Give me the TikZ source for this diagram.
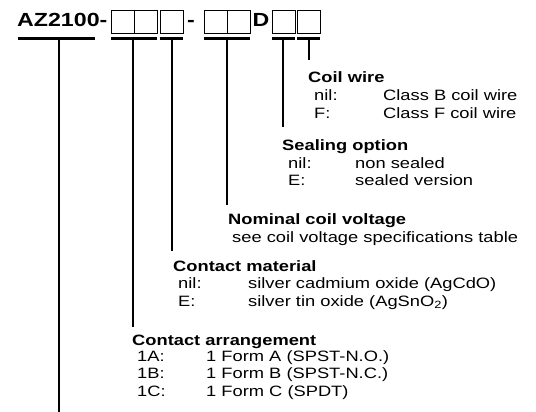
\documentclass[tikz,border=0pt]{standalone}
\usepackage{fontspec}
\setmainfont{Liberation Sans}[FakeStretch=1.22]
\begin{document}
\begin{tikzpicture}[x=1pt,y=-1pt,
  txt/.style={inner sep=0pt, anchor=base west, font=\fontsize{15}{18}\selectfont},
  hd/.style={inner sep=0pt, anchor=base west, font=\fontsize{15}{18}\selectfont\bfseries},
  ttl/.style={inner sep=0pt, anchor=base west, font=\fontsize{19}{23}\selectfont\bfseries},
  digit/.style={draw, line width=1.1pt, minimum width=23pt, minimum height=23pt, inner sep=0pt, anchor=north west},
  bar/.style={line width=2.4pt},
  stem/.style={line width=2pt}]
\useasboundingbox (0,0) rectangle (536,412);
% title
\node[ttl] (az) at (17,27) {AZ2100-};
\node[digit] (b1) at (111,10) {};
\node[digit] (b2) at (134,10) {};
\node[digit] (b3) at (160,10) {};
\node[ttl, anchor=base] (dash) at (191,27) {-};
\node[digit] (b4) at (204,10) {};
\node[digit] (b5) at (227,10) {};
\node[ttl, anchor=base] (dd) at (261,27) {D};
\node[digit] (b6) at (272,10) {};
\node[digit] (b7) at (297,10) {};
% bars
\coordinate (l1) at (18,38.5);  \coordinate (r1) at (95,38.5);
\coordinate (l2) at (111,38.5); \coordinate (r2) at (157,38.5);
\coordinate (l3) at (160,38.5); \coordinate (r3) at (183,38.5);
\coordinate (l4) at (204,38.5); \coordinate (r4) at (250,38.5);
\coordinate (l5) at (272,38.5); \coordinate (r5) at (295,38.5);
\coordinate (l6) at (297,38.5); \coordinate (r6) at (320,38.5);
\foreach \i in {1,...,6} {\draw[bar] (l\i) -- (r\i);}
% stems
\coordinate (t1) at (59,38.5);  \coordinate (e1) at (59,412);
\coordinate (t2) at (133,38.5); \coordinate (e2) at (133,327);
\coordinate (t3) at (172,38.5); \coordinate (e3) at (172,251);
\coordinate (t4) at (227,38.5); \coordinate (e4) at (227,205);
\coordinate (t5) at (283,38.5); \coordinate (e5) at (283,127);
\coordinate (t6) at (309,38.5); \coordinate (e6) at (309,60);
\foreach \i in {1,...,6} {\draw[stem] (t\i) -- (e\i);}
% coil wire
\node[hd] (cw) at (308,83) {Coil wire};
\node[txt] (cw1k) at (314,101) {nil:};
\node[txt] (cw1v) at (383,101) {Class B coil wire};
\node[txt] (cw2k) at (314,118) {F:};
\node[txt] (cw2v) at (383,118) {Class F coil wire};
% sealing option
\node[hd] (so) at (282,150) {Sealing option};
\node[txt] (so1k) at (288,168) {nil:};
\node[txt] (so1v) at (355,168) {non sealed};
\node[txt] (so2k) at (288,185) {E:};
\node[txt] (so2v) at (355,185) {sealed version};
% nominal coil voltage
\node[hd] (nv) at (228,224) {Nominal coil voltage};
\node[txt] (nv1) at (232,242) {see coil voltage specifications table};
% contact material
\node[hd] (cm) at (173,271) {Contact material};
\node[txt] (cm1k) at (178,288) {nil:};
\node[txt] (cm1v) at (248,288) {silver cadmium oxide (AgCdO)};
\node[txt] (cm2k) at (178,306) {E:};
\node[txt] (cm2v) at (248,306) {silver tin oxide (AgSnO\textsubscript{2})};
% contact arrangement
\node[hd] (ca) at (132,345) {Contact arrangement};
\node[txt] (ca1k) at (137,361) {1A:};
\node[txt] (ca1v) at (206,361) {1 Form A (SPST-N.O.)};
\node[txt] (ca2k) at (137,378) {1B:};
\node[txt] (ca2v) at (206,378) {1 Form B (SPST-N.C.)};
\node[txt] (ca3k) at (137,396) {1C:};
\node[txt] (ca3v) at (206,396) {1 Form C (SPDT)};
\end{tikzpicture}
\end{document}
